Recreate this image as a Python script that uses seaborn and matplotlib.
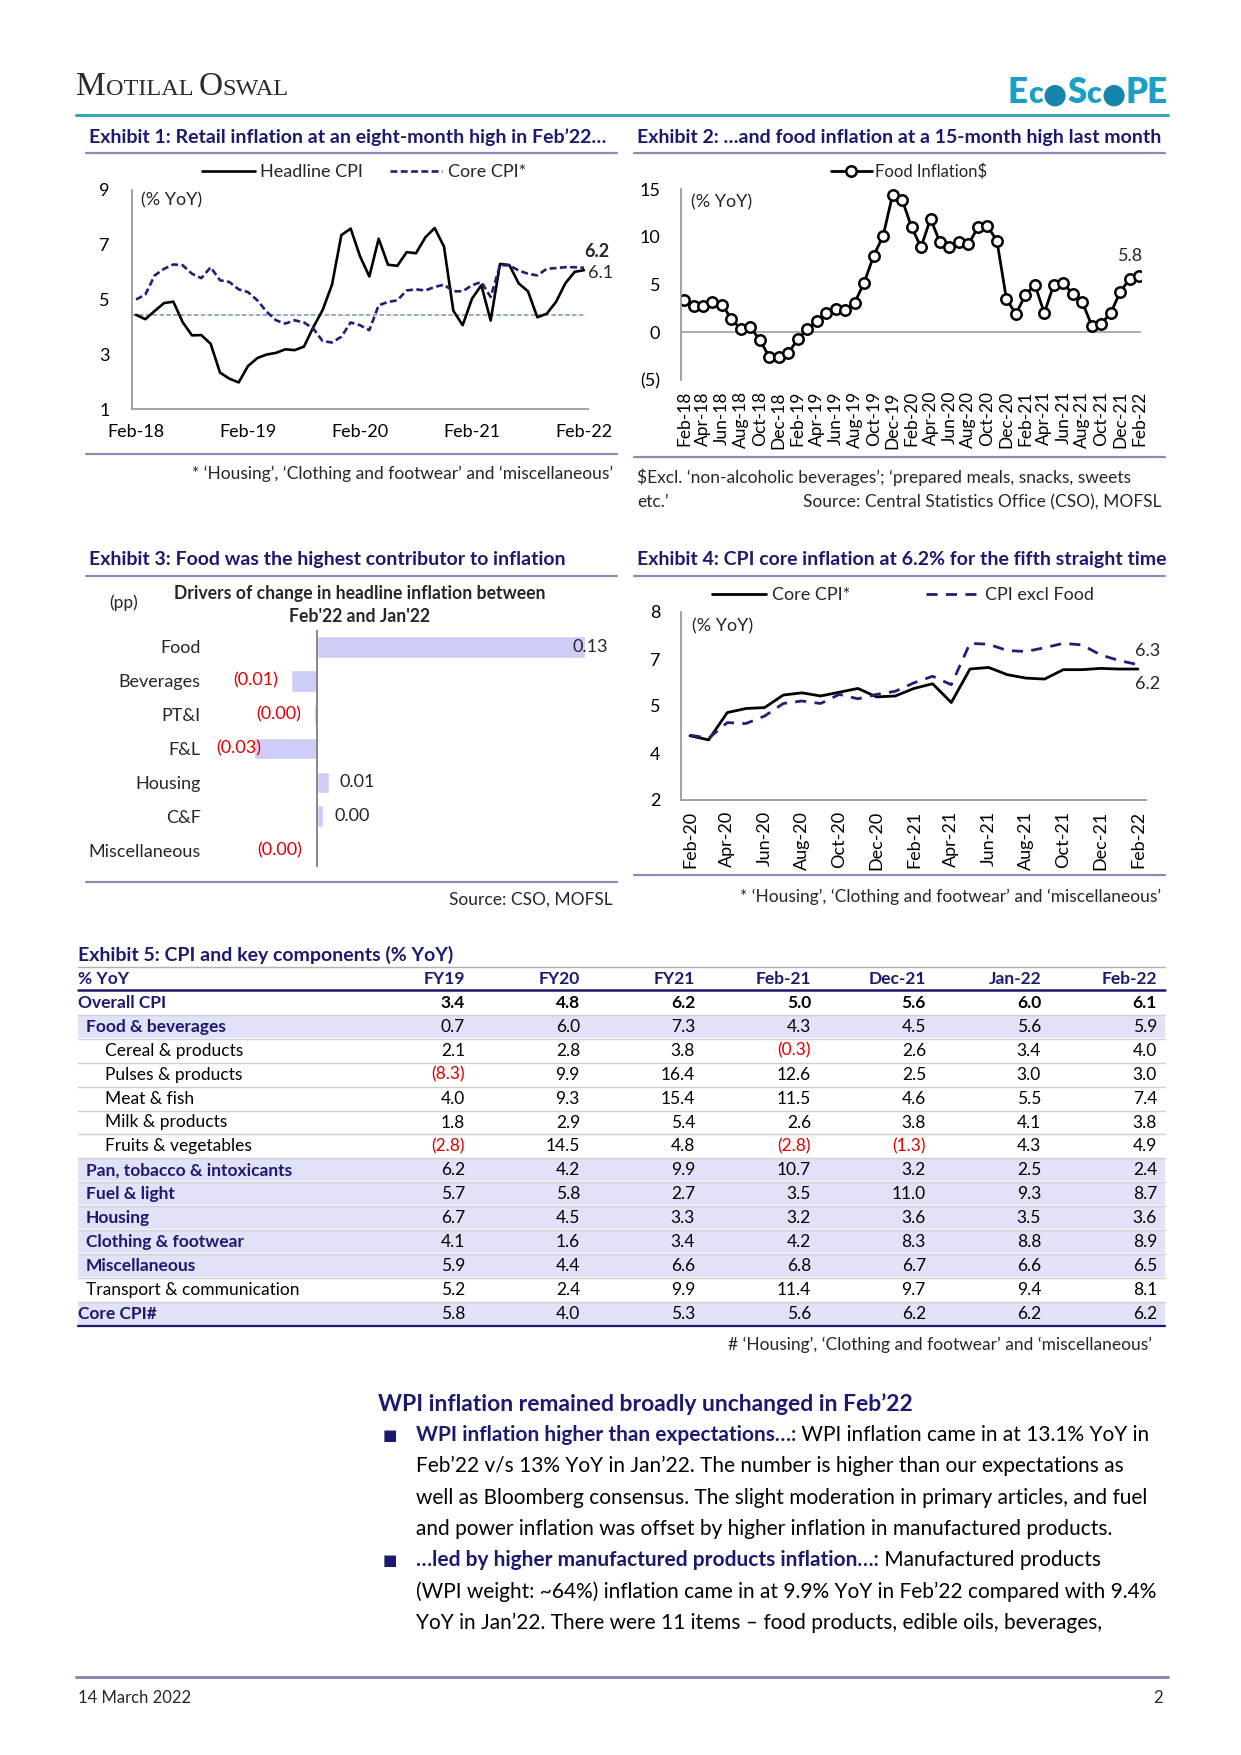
import numpy as np
import pandas as pd
import matplotlib
matplotlib.use("Agg")
import matplotlib.pyplot as plt
import seaborn as sns

# ---------------- data ----------------
months_ex1 = pd.date_range("2018-02-01", "2022-02-01", freq="MS")
headline_cpi = [4.44, 4.28, 4.58, 4.87, 4.92, 4.17, 3.69, 3.70, 3.38, 2.33, 2.11, 1.97,
                2.57, 2.86, 2.99, 3.05, 3.18, 3.15, 3.28, 3.99, 4.62, 5.54, 7.35, 7.59,
                6.58, 5.84, 7.22, 6.27, 6.23, 6.73, 6.69, 7.27, 7.61, 6.93, 4.59, 4.06,
                5.03, 5.52, 4.23, 6.30, 6.26, 5.59, 5.30, 4.35, 4.48, 4.91, 5.59, 6.01, 6.07]
core_cpi = [5.00, 5.18, 5.88, 6.12, 6.28, 6.25, 5.94, 5.78, 6.18, 5.70, 5.64, 5.37,
            5.27, 4.97, 4.55, 4.24, 4.12, 4.24, 4.16, 3.94, 3.48, 3.43, 3.64, 4.16,
            4.06, 3.88, 4.79, 4.91, 4.97, 5.33, 5.37, 5.33, 5.46, 5.54, 5.30, 5.30,
            5.52, 5.64, 5.09, 6.25, 6.25, 6.06, 5.94, 5.88, 6.12, 6.15, 6.18, 6.18, 6.16]
avg_level = 4.45

food_inflation = [3.35, 2.8, 2.8, 3.2, 2.9, 1.4, 0.3, 0.5, -0.8, -2.6, -2.6, -2.2,
                  -0.7, 0.3, 1.2, 2.0, 2.4, 2.3, 3.1, 5.2, 8.0, 10.1, 14.4, 13.9,
                  11.0, 8.9, 11.9, 9.4, 8.9, 9.4, 9.2, 11.0, 11.1, 9.6, 3.5, 1.9,
                  3.9, 5.0, 2.0, 5.0, 5.15, 4.0, 3.2, 0.7, 0.9, 2.0, 4.2, 5.6, 5.85]

drivers = ["Food", "Beverages", "PT&I", "F&L", "Housing", "C&F", "Miscellaneous"]
driver_pp = [0.13, -0.0127, -0.0014, -0.0305, 0.0056, 0.003, -0.0009]

months_ex4 = pd.date_range("2020-02-01", "2022-02-01", freq="MS")
core_cpi_ex4 = [4.05, 3.92, 4.79, 4.92, 4.95, 5.35, 5.42, 5.32, 5.44, 5.56, 5.29, 5.32,
                5.56, 5.71, 5.11, 6.18, 6.23, 6.00, 5.89, 5.86, 6.16, 6.16, 6.20, 6.18, 6.18]
cpi_excl_food = [4.07, 3.97, 4.47, 4.44, 4.68, 5.08, 5.16, 5.08, 5.37, 5.23, 5.37, 5.47,
                 5.74, 5.95, 5.68, 7.00, 6.97, 6.77, 6.74, 6.86, 7.00, 6.95, 6.63, 6.45, 6.32]

table_cols = ["FY19", "FY20", "FY21", "Feb-21", "Dec-21", "Jan-22", "Feb-22"]
table_rows = ["Overall CPI", "Food & beverages", "Cereal & products", "Pulses & products",
              "Meat & fish", "Milk & products", "Fruits & vegetables",
              "Pan, tobacco & intoxicants", "Fuel & light", "Housing", "Clothing & footwear",
              "Miscellaneous", "Transport & communication", "Core CPI#"]
overall = [3.4, 4.8, 6.2, 5.0, 5.6, 6.0, 6.1]
food_bev = [0.7, 6.0, 7.3, 4.3, 4.5, 5.6, 5.9]
cereal = [2.1, 2.8, 3.8, -0.3, 2.6, 3.4, 4.0]
pulses = [-8.3, 9.9, 16.4, 12.6, 2.5, 3.0, 3.0]
meat = [4.0, 9.3, 15.4, 11.5, 4.6, 5.5, 7.4]
milk = [1.8, 2.9, 5.4, 2.6, 3.8, 4.1, 3.8]
fruits = [-2.8, 14.5, 4.8, -2.8, -1.3, 4.3, 4.9]
pan = [6.2, 4.2, 9.9, 10.7, 3.2, 2.5, 2.4]
fuel = [5.7, 5.8, 2.7, 3.5, 11.0, 9.3, 8.7]
housing = [6.7, 4.5, 3.3, 3.2, 3.6, 3.5, 3.6]
clothing = [4.1, 1.6, 3.4, 4.2, 8.3, 8.8, 8.9]
misc = [5.9, 4.4, 6.6, 6.8, 6.7, 6.6, 6.5]
transport = [5.2, 2.4, 9.9, 11.4, 9.7, 9.4, 8.1]
core_row = [5.8, 4.0, 5.3, 5.6, 6.2, 6.2, 6.2]
table_vals = [overall, food_bev, cereal, pulses, meat, milk, fruits, pan, fuel,
              housing, clothing, misc, transport, core_row]

# ---------------- style ----------------
sns.set_theme(style="white")
plt.rcParams["font.family"] = ["Lato", "DejaVu Sans"]
navy = "#1c1a6e"
navy_line = "#1f1f78"
rule = "#8a8ab4"
grey = "#9a9a9a"
red = "#e00000"
shade = "#e1e1f8"
bar_col = "#cdcdf7"
teal = "#1b9fc6"
fs = 13      # chart text
fs_note = 12.5

W, H = 1241, 1755
fig = plt.figure(figsize=(W / 100, H / 100), dpi=100)
rend = fig.canvas.get_renderer()


def box(x0, y0, x1, y1):
    return fig.add_axes([x0 / W, 1 - y1 / H, (x1 - x0) / W, (y1 - y0) / H])


def ftext(x, y, s, **kw):
    kw.setdefault("va", "center")
    return fig.text(x / W, 1 - y / H, s, **kw)


def hline(x0, x1, y, color, lw):
    fig.add_artist(plt.Line2D([x0 / W, x1 / W], [1 - y / H, 1 - y / H], color=color, lw=lw))


def runs(x, y, parts, **kw):
    # draw text pieces one after another on one line
    for s, opts in parts:
        t = ftext(x, y, s, **{**kw, **opts})
        x += t.get_window_extent(renderer=rend).width
    return x


def style_axes(ax, left=True, bottom=True):
    sns.despine(ax=ax, top=True, right=True, left=not left, bottom=not bottom)
    for side in ["left", "bottom"]:
        ax.spines[side].set_color(grey)
        ax.spines[side].set_linewidth(1.3)
    ax.set_xlabel("")
    ax.set_ylabel("")
    ax.grid(False)


# ---------------- header ----------------
runs(76, 95, [("M", dict(fontsize=24)), ("OTILAL ", dict(fontsize=17.5)),
              ("O", dict(fontsize=24)), ("SWAL", dict(fontsize=17.5))],
     family="Liberation Serif", color="#2a2a2a", va="baseline")
runs(1008, 103, [("E", dict(fontsize=25)), ("c", dict(fontsize=22)),
                 ("●", dict(fontsize=20, color="#1784ab", family=["DejaVu Sans"])),
                 ("S", dict(fontsize=25)), ("c", dict(fontsize=22)),
                 ("●", dict(fontsize=20, color="#1784ab", family=["DejaVu Sans"])),
                 ("PE", dict(fontsize=25))],
     fontweight="heavy", color=teal, va="baseline")
hline(76, 1168, 115, "#3aa3bd", 2.2)

title_kw = dict(fontsize=14, fontweight="bold", color=navy)
ftext(89, 137, "Exhibit 1: Retail inflation at an eight-month high in Feb’22…", **title_kw)
ftext(637, 137, "Exhibit 2: …and food inflation at a 15-month high last month", **title_kw)
hline(86, 617, 153, rule, 1.6)
hline(634, 1165, 153, rule, 1.6)

# ---------------- exhibit 1 ----------------
ax1 = box(132, 190, 588, 409)
df1 = pd.DataFrame({"idx": np.arange(len(months_ex1)), "head": headline_cpi, "core": core_cpi})
ax1.axhline(avg_level, color="#7893b8", lw=1.1, ls=(0, (3, 1.5)), xmax=0.995)
sns.lineplot(data=df1, x="idx", y="head", ax=ax1, color="black", lw=1.9, label="Headline CPI")
sns.lineplot(data=df1, x="idx", y="core", ax=ax1, color=navy_line, lw=1.9,
             linestyle=(0, (2.6, 1.3)), label="Core CPI*")
ax1.set_xlim(-0.43, 48.43)
ax1.set_ylim(1, 9)
ax1.set_yticks([1, 3, 5, 7, 9])
ax1.set_xticks(np.arange(0, 49, 12))
ax1.set_xticklabels([m.strftime("%b-%y") for m in months_ex1[::12]])
style_axes(ax1)
ax1.tick_params(axis="both", length=0, labelsize=fs, colors="black")
ax1.tick_params(axis="x", pad=11)
ax1.tick_params(axis="y", pad=16)
ax1.legend(loc="center", bbox_to_anchor=(364 / W, 1 - 172 / H), bbox_transform=fig.transFigure,
           ncol=2, frameon=False, fontsize=fs, handlelength=2.9, columnspacing=1.5,
           handletextpad=0.3)
ftext(141, 200, "(% YoY)", fontsize=fs)
ax1.annotate(f"{core_cpi[-1]:.1f}", (48, core_cpi[-1]), xytext=(0, 12), textcoords="offset points",
             ha="left", va="center", fontsize=fs, fontweight="bold")
ax1.annotate(f"{headline_cpi[-1]:.1f}", (48, headline_cpi[-1]), xytext=(3, -2),
             textcoords="offset points", ha="left", va="center", fontsize=fs)
hline(86, 617, 454, rule, 1.6)
ftext(613, 474, "* ‘Housing’, ‘Clothing and footwear’ and ‘miscellaneous’", ha="right",
      fontsize=fs_note)

# ---------------- exhibit 2 ----------------
ax2 = box(681, 189, 1141, 380)
df2 = pd.DataFrame({"idx": np.arange(len(months_ex1)), "food": food_inflation})
ax2.axhline(0, color="#a6a6a6", lw=1.3)
sns.lineplot(data=df2, x="idx", y="food", ax=ax2, color="black", lw=2, marker="o",
             markersize=7.5, markerfacecolor="white", markeredgecolor="black",
             markeredgewidth=1.8, label="Food Inflation$")
ax2.set_xlim(-0.32, 48.2)
ax2.set_ylim(-5, 15)
ax2.set_yticks([-5, 0, 5, 10, 15])
ax2.set_yticklabels(["(5)", "0", "5", "10", "15"])
ax2.set_xticks(np.arange(0, 49, 2))
ax2.set_xticklabels([m.strftime("%b-%y") for m in months_ex1[::2]], rotation=90, va="top")
style_axes(ax2, bottom=False)
ax2.tick_params(axis="both", length=0, labelsize=fs, colors="black")
ax2.tick_params(axis="x", pad=8, labelsize=12.5)
ax2.tick_params(axis="y", pad=15)
ax2.legend(loc="center", bbox_to_anchor=(909 / W, 1 - 172 / H), bbox_transform=fig.transFigure,
           frameon=False, fontsize=12, handlelength=2.45, handletextpad=0.2)
ftext(691, 202, "(% YoY)", fontsize=fs)
ax2.annotate(f"{food_inflation[-1]:.1f}", (48, food_inflation[-1]), xytext=(-6, 15),
             textcoords="offset points", ha="center", va="center", fontsize=fs)
hline(634, 1165, 457, rule, 1.6)
ftext(637, 477, "$Excl. ‘non-alcoholic beverages’; ‘prepared meals, snacks, sweets",
      fontsize=fs_note)
ftext(637, 502, "etc.’", fontsize=fs_note)
ftext(1161, 502, "Source: Central Statistics Office (CSO), MOFSL", ha="right", fontsize=fs_note)

# ---------------- exhibit 3 ----------------
ftext(89, 559, "Exhibit 3: Food was the highest contributor to inflation", **title_kw)
ftext(637, 559, "Exhibit 4: CPI core inflation at 6.2% for the fifth straight time", **title_kw)
hline(86, 617, 576, rule, 1.6)
hline(634, 1165, 576, rule, 1.6)

ftext(124, 603, "(pp)", ha="center", fontsize=fs_note)
ftext(360, 593, "Drivers of change in headline inflation between", ha="center",
      fontsize=12.7, fontweight="bold")
ftext(360, 616, "Feb'22 and Jan'22", ha="center", fontsize=12.7, fontweight="bold")

ax3 = box(216, 630, 608, 867)
sns.barplot(x=driver_pp, y=drivers, orient="h", color=bar_col, saturation=1, width=0.64, ax=ax3)
ax3.set_xlim(-0.049, 0.1411)
ax3.axvline(0, color="#7f7f7f", lw=1.3)
ax3.set_xticks([])
sns.despine(ax=ax3, left=True, bottom=True)
ax3.tick_params(axis="y", length=0, labelsize=fs, pad=11)
ax3.set_xlabel("")
ax3.set_ylabel("")
lo, hi = ax3.bbox.x0, ax3.bbox.x1
for i, v in enumerate(driver_pp):
    if v >= 0:
        t = ax3.text(v + 0.0055, i, f"{v:.2f}", ha="left", va="center", fontsize=fs)
    else:
        t = ax3.text(v - 0.0062, i, f"({abs(v):.2f})", ha="right", va="center",
                     fontsize=fs, color=red)
    bb = t.get_window_extent(renderer=rend)
    shift = 0
    if bb.x1 > hi:
        shift = hi - bb.x1
    elif bb.x0 < lo:
        shift = lo - bb.x0
    if shift:
        x_disp = ax3.transData.transform((t.get_position()[0], i))[0] + shift
        t.set_x(ax3.transData.inverted().transform((x_disp, 0))[0])
hline(86, 617, 882, rule, 1.6)
ftext(613, 900, "Source: CSO, MOFSL", ha="right", fontsize=fs_note)

# ---------------- exhibit 4 ----------------
ax4 = box(681, 612, 1146, 800)
df4 = pd.DataFrame({"idx": np.arange(len(months_ex4)), "core": core_cpi_ex4, "xfood": cpi_excl_food})
sns.lineplot(data=df4, x="idx", y="core", ax=ax4, color="black", lw=2, label="Core CPI*")
sns.lineplot(data=df4, x="idx", y="xfood", ax=ax4, color=navy_line, lw=2,
             linestyle=(0, (4, 3)), label="CPI excl Food")
ax4.set_xlim(-0.48, 24.43)
ax4.set_ylim(2, 8)
ax4.set_yticks([2, 3.5, 5, 6.5, 8])
ax4.set_yticklabels(["2", "4", "5", "7", "8"])
ax4.set_xticks(np.arange(0, 25, 2))
ax4.set_xticklabels([m.strftime("%b-%y") for m in months_ex4[::2]], rotation=90, va="top")
style_axes(ax4)
ax4.tick_params(axis="both", length=0, labelsize=fs, colors="black")
ax4.tick_params(axis="x", pad=8)
ax4.tick_params(axis="y", pad=15)
ax4.legend(loc="center", bbox_to_anchor=(903 / W, 1 - 595 / H), bbox_transform=fig.transFigure,
           ncol=2, frameon=False, fontsize=fs, handlelength=3.0, columnspacing=4.2,
           handletextpad=0.3)
ftext(692, 626, "(% YoY)", fontsize=fs)
ax4.annotate(f"{cpi_excl_food[-1]:.1f}", (24, cpi_excl_food[-1]), xytext=(-2, 10),
             textcoords="offset points", ha="left", va="center", fontsize=fs)
ax4.annotate(f"{core_cpi_ex4[-1]:.1f}", (24, core_cpi_ex4[-1]), xytext=(-2, -11),
             textcoords="offset points", ha="left", va="center", fontsize=fs)
hline(634, 1165, 875, rule, 1.6)
ftext(1161, 897, "* ‘Housing’, ‘Clothing and footwear’ and ‘miscellaneous’", ha="right",
      fontsize=fs_note)

# ---------------- exhibit 5 table ----------------
ftext(78, 955, "Exhibit 5: CPI and key components (% YoY)", **title_kw)
col_right = [465, 580, 695, 811, 926, 1041, 1157]
indent = [78, 86, 105, 105, 105, 105, 105, 86, 86, 86, 86, 86, 86, 78]
bold_row = [True, True, False, False, False, False, False, True, True, True, True, True, False, True]
shaded = [False, True, False, False, False, False, False, True, True, True, True, True, False, True]
tx0, tx1 = 78, 1165
hdr_y, row0, pitch = 979, 1003, 23.9
tsize = 12.5

hline(tx0, tx1, 967, "#b0b0b0", 1)
ftext(78, hdr_y, "% YoY", fontsize=tsize, fontweight="bold", color=navy)
for c, xr in zip(table_cols, col_right):
    ftext(xr, hdr_y, c, ha="right", fontsize=tsize, fontweight="bold", color=navy)
hline(tx0, tx1, 990, navy, 1.8)
for r, (name, vals) in enumerate(zip(table_rows, table_vals)):
    y = row0 + r * pitch
    if shaded[r]:
        fig.add_artist(plt.Rectangle((tx0 / W, 1 - (y + pitch / 2 - 1) / H), (tx1 - tx0) / W,
                                     (pitch - 2) / H, color=shade, lw=0, zorder=0))
    if r > 0:
        hline(tx0, tx1, y - pitch / 2, "#d0d0d0", 1)
    ftext(indent[r], y, name, fontsize=tsize, fontweight="bold" if bold_row[r] else "normal",
          color=navy if bold_row[r] else "black")
    for v, xr in zip(vals, col_right):
        s = f"({abs(v):.1f})" if v < 0 else f"{v:.1f}"
        ftext(xr, y, s, ha="right", fontsize=tsize, color=red if v < 0 else "black",
              fontweight="bold" if r == 0 else "normal")
hline(tx0, tx1, row0 + 13 * pitch + pitch / 2, navy, 1.6)
ftext(1152, 1345, "# ‘Housing’, ‘Clothing and footwear’ and ‘miscellaneous’", ha="right",
      fontsize=fs_note)

# ---------------- commentary ----------------
ftext(378, 1404, "WPI inflation remained broadly unchanged in Feb’22", fontsize=16.5,
      fontweight="bold", color=navy)
bold_kw = dict(fontweight="bold", color=navy)
plain_kw = dict(color="black")
para = [
    [("WPI inflation higher than expectations…:", bold_kw), (" WPI inflation came in at 13.1% YoY in", plain_kw)],
    [("Feb’22 v/s 13% YoY in Jan’22. The number is higher than our expectations as", plain_kw)],
    [("well as Bloomberg consensus. The slight moderation in primary articles, and fuel", plain_kw)],
    [("and power inflation was offset by higher inflation in manufactured products.", plain_kw)],
    [("…led by higher manufactured products inflation…:", bold_kw), (" Manufactured products", plain_kw)],
    [("(WPI weight: ~64%) inflation came in at 9.9% YoY in Feb’22 compared with 9.4%", plain_kw)],
    [("YoY in Jan’22. There were 11 items – food products, edible oils, beverages,", plain_kw)],
]
for k, line in enumerate(para):
    y = 1435 + k * 31.3
    if k in (0, 4):
        ftext(383, y, "■", fontsize=11, color=navy, family=["DejaVu Sans"])
    runs(416, y, line, fontsize=15)

# ---------------- footer ----------------
hline(76, 1168, 1677, rule, 2.2)
ftext(78, 1698, "14 March 2022", fontsize=12)
ftext(1163, 1698, "2", ha="right", fontsize=12)

fig.savefig("out.png", dpi=100)
